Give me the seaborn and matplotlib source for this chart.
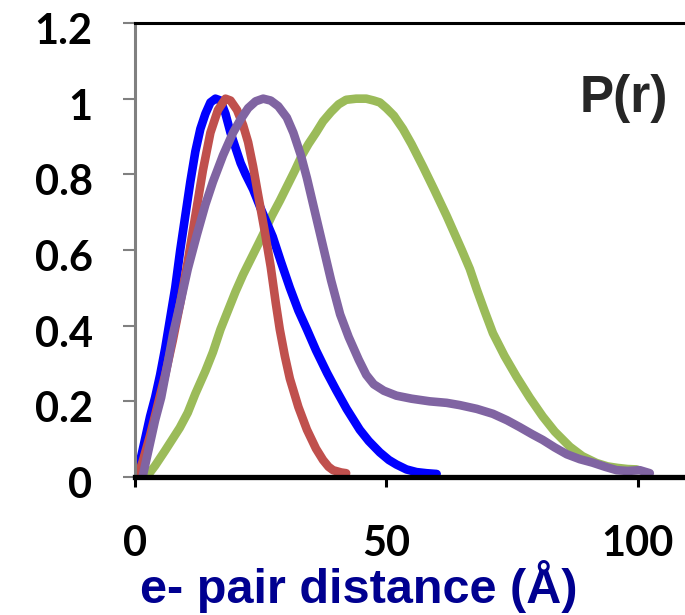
import numpy as np
import matplotlib as mpl
_ = mpl.use('Agg')
import matplotlib.pyplot as plt
import matplotlib.transforms as mtrans
import seaborn as sns
import pandas as pd

# curves (r in Angstrom, normalised P(r))
blue_r = [0, 1, 2, 3, 4, 5, 6, 7, 8, 9, 10, 11, 12, 13, 14, 15, 16, 17, 18, 19, 20, 21, 22,
          23.5, 25, 27.4, 29, 30.8, 32.5, 34.2, 36, 38.2, 40, 42.1, 44.7, 46.5, 48.7, 50.5,
          52, 54, 56, 58, 60]
blue_p = [0, 0.04, 0.1, 0.16, 0.21, 0.27, 0.34, 0.42, 0.5, 0.6, 0.69, 0.78, 0.86, 0.92, 0.96,
          0.99, 1.0, 0.995, 0.96, 0.91, 0.87, 0.83, 0.8, 0.76, 0.71, 0.635, 0.57, 0.5, 0.44,
          0.39, 0.335, 0.275, 0.23, 0.18, 0.125, 0.095, 0.065, 0.045, 0.033, 0.02, 0.013,
          0.01, 0.008]

red_r = [0.5, 1.5, 3, 4.5, 6, 7.5, 9, 10.5, 12, 13.5, 15, 16.5, 18, 19, 20.3, 21.5, 22.5,
         23.5, 24.5, 25.8, 27, 28, 28.8, 29.8, 30.8, 32.5, 34.2, 36, 37.4, 38.5, 39.4, 41, 42]
red_p = [0, 0.04, 0.11, 0.19, 0.27, 0.36, 0.46, 0.57, 0.69, 0.81, 0.91, 0.97, 1.0, 0.995,
         0.97, 0.93, 0.885, 0.82, 0.745, 0.65, 0.555, 0.46, 0.39, 0.32, 0.26, 0.185, 0.125,
         0.075, 0.045, 0.027, 0.018, 0.012, 0.01]

purple_r = [1.5, 3, 4, 5.2, 6.5, 7.6, 9, 10.5, 12.3, 14, 15.5, 17.5, 19.5, 21, 22.5, 24,
            25.5, 27, 28.5, 30.2, 31.5, 33, 34.2, 35.8, 37.4, 39, 40.8, 42.5, 44.5, 46, 47.5,
            49.5, 52, 55, 58.6, 62, 64.6, 68, 71.2, 74, 76.5, 79, 81.1, 83.5, 85.9, 88.5, 91,
            93.5, 95.8, 98, 100.4, 102.4]
purple_p = [0, 0.09, 0.15, 0.21, 0.3, 0.38, 0.46, 0.55, 0.64, 0.72, 0.78, 0.85, 0.91, 0.945,
            0.975, 0.993, 1.0, 0.995, 0.98, 0.95, 0.91, 0.85, 0.79, 0.7, 0.61, 0.52, 0.43,
            0.37, 0.31, 0.27, 0.245, 0.228, 0.215, 0.207, 0.2, 0.196, 0.19, 0.18, 0.167, 0.15,
            0.132, 0.113, 0.098, 0.078, 0.06, 0.047, 0.038, 0.027, 0.018, 0.016, 0.018, 0.01]

green_r = [2.3, 4, 6, 8.9, 10.5, 12, 14, 15.5, 17, 18.5, 20, 21.5, 23, 24.5, 25.8, 27.2, 28.8,
           30.3, 31.8, 33.2, 34.5, 36, 37.4, 39, 40.5, 42, 44, 46, 47.5, 48.7, 50, 51.5, 53.3,
           55, 57.3, 59.5, 62, 63.5, 65, 66.6, 68, 69.5, 71.2, 73.5, 75.9, 78.5, 81.1, 83.5,
           86.5, 89, 91.8, 94, 96, 98, 99.8]
green_p = [0, 0.03, 0.07, 0.13, 0.17, 0.22, 0.28, 0.33, 0.39, 0.44, 0.49, 0.535, 0.575, 0.615,
           0.65, 0.69, 0.73, 0.77, 0.81, 0.85, 0.88, 0.91, 0.94, 0.965, 0.985, 0.997, 1.0, 1.0,
           0.995, 0.99, 0.975, 0.955, 0.92, 0.88, 0.82, 0.76, 0.69, 0.645, 0.6, 0.55, 0.495,
           0.44, 0.38, 0.32, 0.265, 0.21, 0.16, 0.12, 0.08, 0.055, 0.037, 0.028, 0.024, 0.021,
           0.02]

y_ticks = [0, 0.2, 0.4, 0.6, 0.8, 1.0, 1.2]
y_ticklabels = ['0', '0.2', '0.4', '0.6', '0.8', '1', '1.2']
x_ticks = [0, 50, 100]

sns.set_style('white')
plt.rcParams['font.family'] = ['Lato', 'DejaVu Sans']

fig = plt.figure(figsize=(6.85, 6.15), dpi=100)
ax = fig.add_axes([135 / 685, 1 - 477 / 615, 553 / 685, 454 / 615])

series = [(green_r, green_p, '#9BBB59'),
          (blue_r, blue_p, '#0000FF'),
          (red_r, red_p, '#C0504D'),
          (purple_r, purple_p, '#8064A2')]
for r, p, col in series:
    df = pd.DataFrame({'r': r, 'P': p})
    sns.lineplot(data=df, x='r', y='P', ax=ax, color=col, linewidth=6.2,
                 estimator=None, solid_capstyle='round', solid_joinstyle='round')

ax.set_xlim(0, 110)
ax.set_ylim(0, 1.2)
ax.set_xticks(x_ticks)
ax.set_xticklabels([str(v) for v in x_ticks])
ax.set_yticks(y_ticks)
ax.set_yticklabels(y_ticklabels)
ax.set_xlabel('')
ax.set_ylabel('')

ax.spines['left'].set_color('#808080')
ax.spines['left'].set_linewidth(2.2)
ax.spines['top'].set_color('black')
ax.spines['top'].set_linewidth(2.2)
ax.spines['bottom'].set_color('black')
ax.spines['bottom'].set_linewidth(3.8)
ax.spines['bottom'].set_zorder(5)
ax.spines['right'].set_visible(False)

ax.tick_params(axis='y', direction='out', length=8.6, width=1.5, color='#808080',
               pad=22, labelsize=30, labelcolor='black', left=True)
ax.tick_params(axis='x', direction='out', length=7.2, width=2.2, color='black',
               pad=27, labelsize=30, labelcolor='black', bottom=True)
shift = mtrans.ScaledTranslation(0, -4 / 72, fig.dpi_scale_trans)
for lab in ax.get_yticklabels():
    lab.set_fontweight('bold')
    lab.set_transform(lab.get_transform() + shift)
for lab in ax.get_xticklabels():
    lab.set_fontweight('bold')

fig.text(580 / 685, 1 - 112 / 615, 'P(r)', fontsize=37, fontweight='bold',
         family=['Liberation Sans', 'DejaVu Sans'], ha='left', va='baseline')
fig.text(359 / 685, 1 - 603 / 615, 'e- pair distance (Å)', fontsize=35, fontweight='bold',
         color='#000090', family=['Liberation Sans', 'DejaVu Sans'], ha='center', va='baseline')

fig.savefig('out.png', dpi=100)
